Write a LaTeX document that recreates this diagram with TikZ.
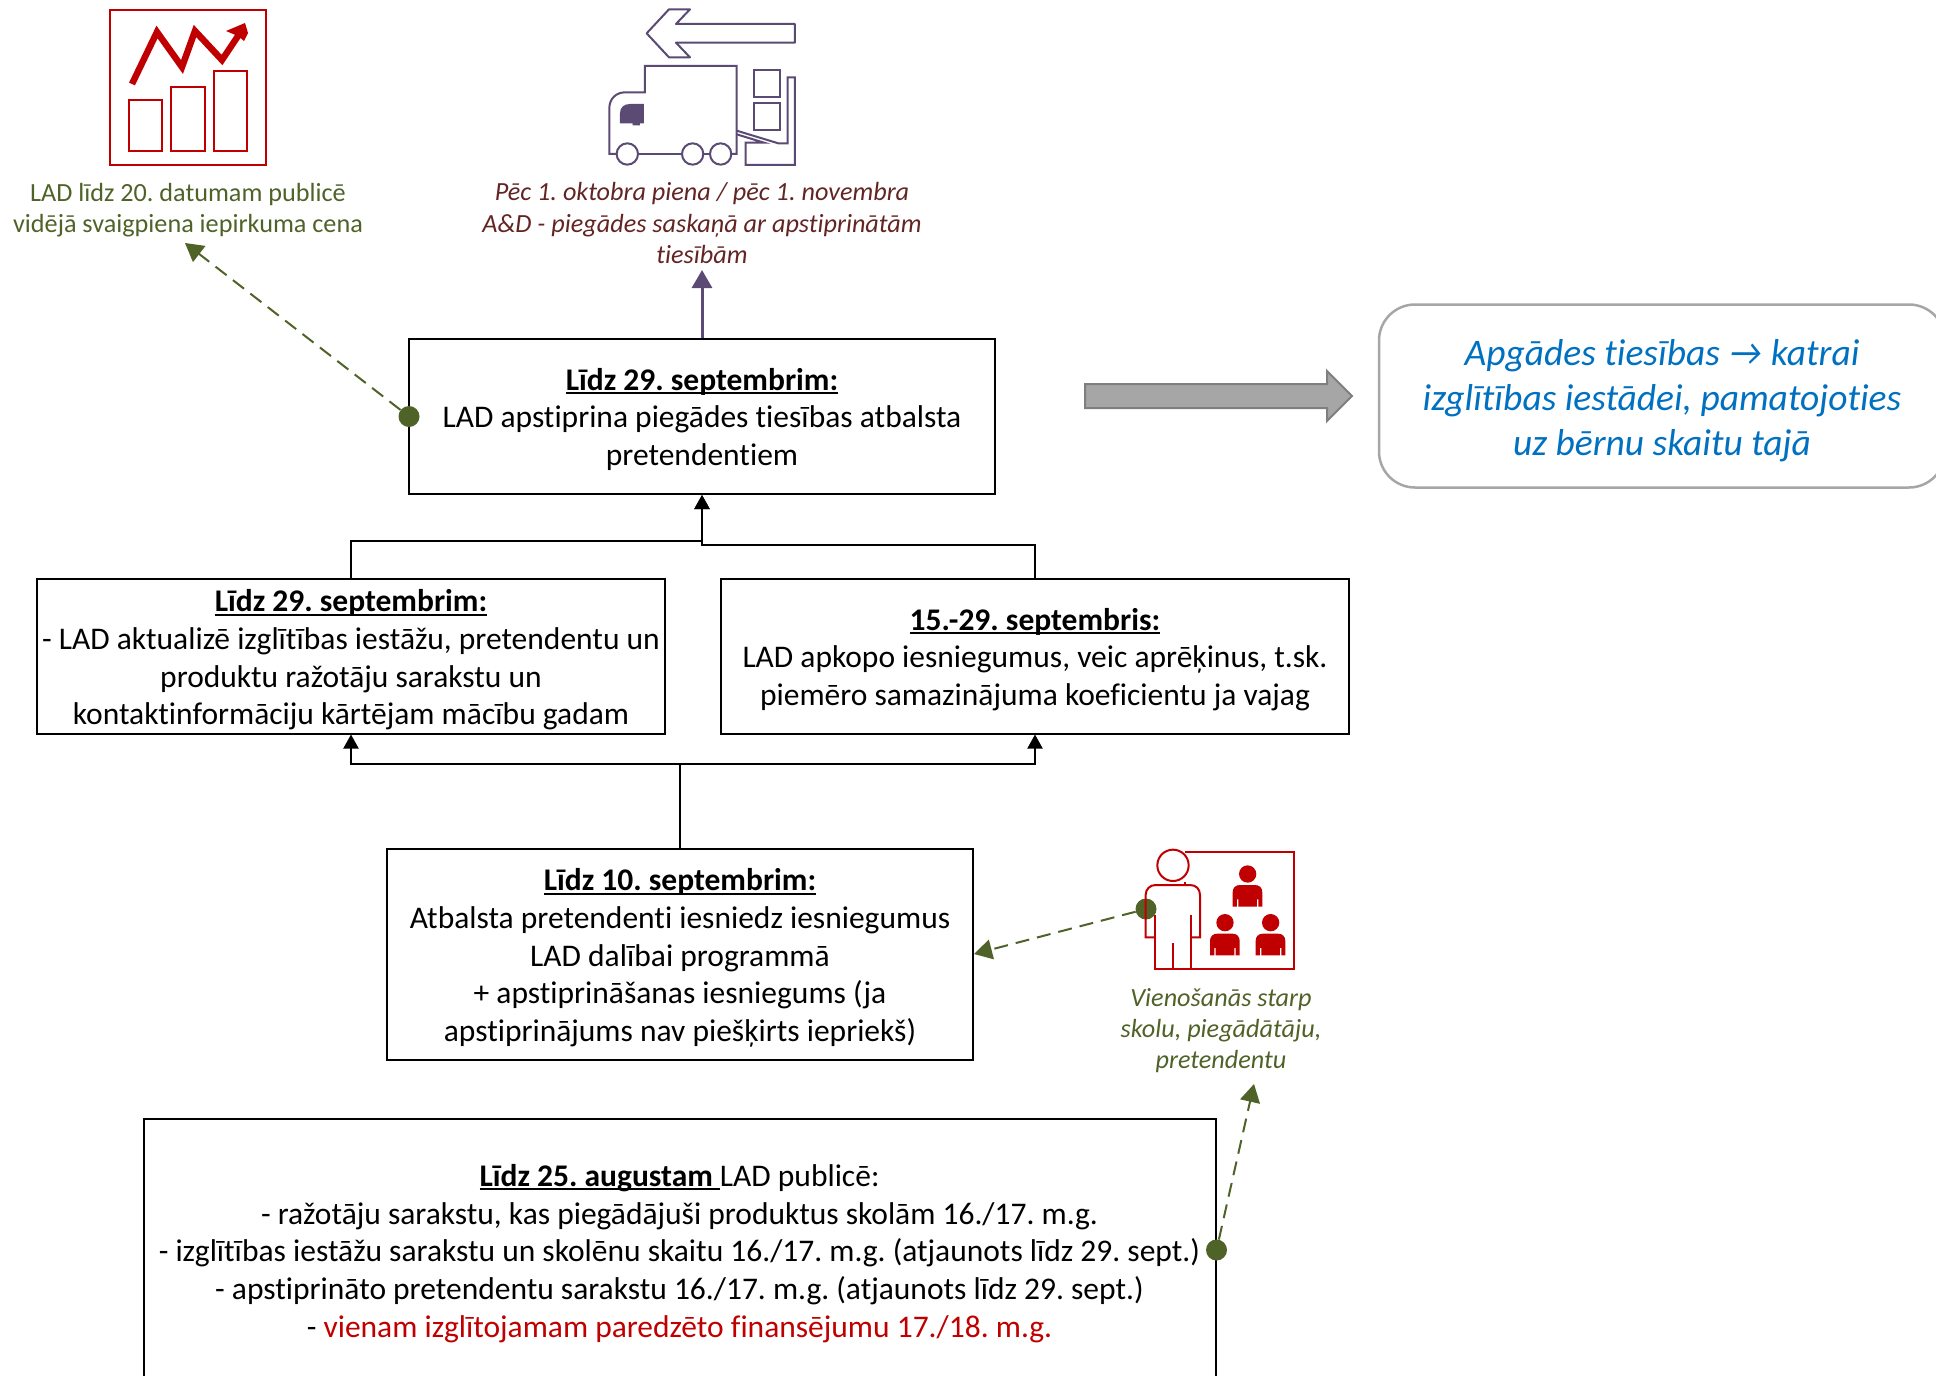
\documentclass[tikz,border=0pt]{standalone}
\usepackage{fontspec}
\setmainfont[Ligatures=NoCommon]{Carlito}
\usetikzlibrary{arrows.meta}
\definecolor{iconred}{HTML}{C00000}
\definecolor{olivec}{HTML}{4F6228}
\definecolor{plumc}{HTML}{5B4A74}
\definecolor{wine}{HTML}{632523}
\definecolor{blueT}{HTML}{0070C0}
\definecolor{grayF}{HTML}{A6A6A6}
\definecolor{grayD}{HTML}{7F7F7F}
\newcommand{\ulbold}[1]{\leavevmode\setbox0\hbox{\bfseries #1}\rlap{\rule[-0.13em]{\wd0}{0.07em}}\box0}
\newcommand{\topstrut}[1]{\rule{0pt}{#1pt}}
\tikzset{
  x=1pt,y=-1pt,
  infobox/.style={draw=black,line width=2pt,inner sep=0pt,align=center,font=\fontsize{31.5}{37.7}\selectfont\frenchspacing},
  conn/.style={draw=black,line width=2pt},
  blacktip/.style={-{Triangle[length=14pt,width=15pt]}},
  olivedash/.style={draw=olivec,line width=2pt,dash pattern=on 14pt off 8pt,-{Triangle[length=18pt,width=20pt,fill=olivec]}},
  olivedot/.style={circle,fill=olivec,inner sep=0pt,minimum size=21pt},
  redline/.style={draw=iconred,line width=2pt},
  purpleline/.style={draw=plumc,line width=2pt},
  caption/.style={inner sep=0pt,align=center,font=\fontsize{26.2}{31.5}\selectfont\frenchspacing},
}
\begin{document}
\begin{tikzpicture}
\useasboundingbox (0,0) rectangle (1936,1376);
\clip (0,0) rectangle (1936,1376);
% boxes
\node[infobox,minimum width=586pt,minimum height=155pt] (top) at (702,416.5) {\topstrut{27.8}\ulbold{Līdz 29. septembrim:}\\LAD apstiprina piegādes tiesības atbalsta\\pretendentiem};
\node[infobox,minimum width=628pt,minimum height=155pt] (left) at (351,656) {\topstrut{30.2}\ulbold{Līdz 29. septembrim:}\\- LAD aktualizē izglītības iestāžu, pretendentu un\\produktu ražotāju sarakstu un\\kontaktinformāciju kārtējam mācību gadam};
\node[infobox,minimum width=628pt,minimum height=155pt] (right) at (1035,656) {\topstrut{28.8}\ulbold{15.-29. septembris:}\\LAD apkopo iesniegumus, veic aprēķinus, t.sk.\\piemēro samazinājuma koeficientu ja vajag};
\node[infobox,minimum width=586pt,minimum height=211pt] (mid) at (680,954) {\topstrut{30.2}\ulbold{Līdz 10. septembrim:}\\Atbalsta pretendenti iesniedz iesniegumus\\LAD dalībai programmā\\+ apstiprināšanas iesniegums (ja\\apstiprinājums nav piešķirts iepriekš)};
\node[infobox,minimum width=1072pt,minimum height=262pt] (bot) at (679.5,1250) {\topstrut{28.8}\ulbold{Līdz 25. augustam }LAD publicē:\\- ražotāju sarakstu, kas piegādājuši produktus skolām 16./17. m.g.\\- izglītības iestāžu sarakstu un skolēnu skaitu 16./17. m.g. (atjaunots līdz 29. sept.)\\- apstiprināto pretendentu sarakstu 16./17. m.g. (atjaunots līdz 29. sept.)\\- {\color{iconred}vienam izglītojamam paredzēto finansējumu 17./18. m.g.}};
\node[draw=grayF,line width=2.5pt,rounded corners=36pt,minimum width=566pt,minimum height=183pt,inner sep=0pt,align=center,text=blueT,font=\fontsize{37.5}{45}\selectfont\itshape\frenchspacing] (apg) at (1662,396) {\topstrut{35.5}Apgādes tiesības → katrai\\izglītības iestādei, pamatojoties\\uz bērnu skaitu tajā};
% captions
\node[caption,text=olivec] (cap1) at (188,210) {LAD līdz 20. datumam publicē\\vidējā svaigpiena iepirkuma cena};
\node[caption,text=wine,font=\fontsize{26.2}{31.5}\selectfont\itshape\frenchspacing] (cap2) at (702,223) {Pēc 1. oktobra piena / pēc 1. novembra\\A\&D - piegādes saskaņā ar apstiprinātām\\tiesībām};
\node[caption,text=olivec,font=\fontsize{26.2}{31}\selectfont\itshape\frenchspacing] (cap3) at (1221,1030.5) {Vienošanās starp\\skolu, piegādātāju,\\pretendentu};
% gray block arrow
\fill[grayF,draw=grayD,line width=2pt] (1085,384) -- (1327,384) -- (1327,371) -- (1352,396) -- (1327,421) -- (1327,408) -- (1085,408) -- cycle;
% connectors
\draw[conn] (mid.north) -- ++(0,-84) coordinate (midj);
\draw[conn,blacktip] (midj) -| (left.south);
\draw[conn,blacktip] (midj) -| (right.south);
\draw[conn,blacktip] (left.north) -- ++(0,-37) -| (top.south);
\draw[conn,blacktip] (right.north) -- ++(0,-33) -| (top.south);
\coordinate (plumend) at (702,270);
\draw[plumc,line width=3pt,-{Triangle[length=18pt,width=20pt,fill=plumc]}] (top.north) -- (plumend);
\coordinate (t1) at (185,243);
\coordinate (t3) at (1254,1084);
\node[olivedot] (d1) at ([xshift=1pt]top.west) {};
\node[olivedot] (d2) at (1146,909) {};
\node[olivedot] (d3) at (bot.east) {};
\draw[olivedash] (d1) -- (t1);
\draw[olivedash] (d2) -- (mid.east);
\draw[olivedash] (d3) -- (t3);
% chart icon
\draw[redline] (110,10) rectangle (266,165);
\draw[redline] (129,100) rectangle (162,151);
\draw[redline] (171,87) rectangle (205,151);
\draw[redline] (214,71) rectangle (247,151);
\draw[iconred,line width=6.5pt,miter limit=10] (132,84) -- (157,32) -- (182,67) -- (195,31) -- (222,60) -- (240,33);
\fill[iconred] (226,31) -- (245,23) -- (248,33) -- (244,41) -- (238,36) -- cycle;
% truck icon
\begin{scope}[shift={(470,0)},x=0.3333pt,y=-0.3333pt]
\draw[purpleline,line width=2pt,line join=round] (530,100) -- (597,28) -- (660,28) -- (618,72) -- (975,72) -- (975,128) -- (618,128) -- (660,172) -- (597,172) -- cycle;
\draw[purpleline,line width=2pt] (440,462) -- (418,462) -- (418,325) .. controls (418,295) and (440,277) .. (465,277) -- (525,277) -- (525,198) -- (800,198) -- (800,462) -- (785,462);
\draw[purpleline,line width=2pt] (505,462) -- (637,462);
\draw[purpleline,line width=2pt] (700,462) -- (720,462);
\draw[purpleline,line width=2pt] (472,462) circle (32);
\draw[purpleline,line width=2pt] (668,462) circle (32);
\draw[purpleline,line width=2pt] (752,462) circle (32);
\fill[plumc] (450,370) -- (450,340) .. controls (450,322) and (462,312) .. (480,312) -- (522,312) -- (522,370) -- (510,370) -- (510,376) -- (488,376) -- (488,370) -- cycle;
\draw[purpleline,line width=2pt] (852,210) rectangle (929,292);
\draw[purpleline,line width=2pt] (852,308) rectangle (929,390);
\draw[purpleline,line width=2pt] (800,392) -- (925,430) -- (953,430) -- (953,232) -- (975,232) -- (975,495) -- (827,495) -- (827,428) -- (882,428) -- (800,403);
\end{scope}
% teacher icon
\begin{scope}[shift={(1100,830)},x=0.3333pt,y=-0.3333pt]
\draw[redline] (255,65) -- (583,65) -- (583,418) -- (165,418);
\draw[redline] (255,155) -- (255,165);
\draw[redline] (219,106) circle (47);
\draw[redline] (165,322) -- (137,322) -- (137,195) .. controls (137,177) and (150,165) .. (167,165) -- (270,165) .. controls (288,165) and (300,177) .. (300,195) -- (300,322) -- (272,322);
\draw[redline] (272,255) -- (272,418) -- (165,418) -- (165,255);
\draw[redline] (219,340) -- (219,418);
\foreach \dx/\dy/\nm in {0/0/a,-68/146/b,69/146/c}{
\begin{scope}[shift={(\dx*0.3333pt,-\dy*0.3333pt)}]
\fill[iconred] (443,132) circle (26);
\fill[iconred] (398,230) -- (398,187) .. controls (398,174) and (406,165) .. (420,165) -- (465,165) .. controls (479,165) and (487,174) .. (487,187) -- (487,230) -- (475,230) -- (475,208) -- (471,208) -- (471,230) -- (415,230) -- (415,208) -- (411,208) -- (411,230) -- cycle;
\end{scope}}
\end{scope}
\end{tikzpicture}
\end{document}
